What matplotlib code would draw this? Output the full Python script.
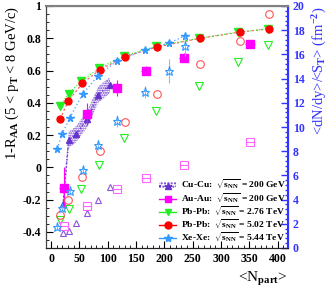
import numpy as np
import matplotlib
matplotlib.use("Agg")
import matplotlib.pyplot as plt
from matplotlib.lines import Line2D
from matplotlib.patches import Patch
from matplotlib.ticker import MultipleLocator, FuncFormatter

plt.rcParams['font.family'] = 'Liberation Serif'
plt.rcParams['font.weight'] = 'bold'
plt.rcParams['mathtext.fontset'] = 'custom'
plt.rcParams['mathtext.rm'] = 'Liberation Serif:bold'
plt.rcParams['mathtext.it'] = 'Liberation Serif:bold'
plt.rcParams['mathtext.bf'] = 'Liberation Serif:bold'

# filled markers -> 1-R_AA (left axis)
cucu_np = [21, 31, 44, 64, 83, 104]
cucu_raa = [-0.23, 0.17, 0.205, 0.30, 0.45, 0.51]
auau_np = [22, 64, 116, 167, 234, 351]
auau_raa = [-0.125, 0.33, 0.49, 0.60, 0.68, 0.765]
auau_raa_err = [0.13, 0.07, 0.05, 0.03, 0.03, 0.02]
pb276_np = [15, 31, 53, 85, 129, 185, 261, 330, 382]
pb276_raa = [0.378, 0.457, 0.533, 0.615, 0.69, 0.75, 0.80, 0.838, 0.858]
pb502_np = [16, 30, 55, 86, 130, 186, 263, 333, 384]
pb502_raa = [0.30, 0.41, 0.52, 0.605, 0.685, 0.745, 0.80, 0.838, 0.858]
xexe_np = [11, 19, 33, 56, 82, 116, 166, 208, 236]
xexe_raa = [0.115, 0.204, 0.307, 0.457, 0.564, 0.66, 0.728, 0.77, 0.815]

# open markers -> <dN/dy>/<S_T> (right axis)
cucu_dens = [1.22, 1.44, 2.06, 2.9, 3.94, 5.06]
auau_dens = [1.78, 3.45, 4.9, 5.8, 6.9, 8.8]
pb276_dens = [2.33, 3.22, 4.9, 6.9, 9.1, 11.3, 13.4, 15.4, 16.8]
pb502_dens = [2.75, 4.0, 5.9, 8.03, 10.4, 12.75, 15.17, 17.1, 19.3]
xexe_dens = [1.72, 3.3, 4.7, 6.44, 8.5, 10.5, 12.9, 14.6, 16.7]
xexe_dens_err = [0.2, 0.3, 0.3, 0.3, 0.4, 0.5, 0.5, 1.0, 0.8]

c_cu = '#6633cc'
c_au = '#ff00ff'
c_pb276 = '#22ee22'
c_pb502 = '#ff0000'
c_xe = '#3399ff'
c_right = '#3333ff'

fig = plt.figure(figsize=(3.34, 2.91), dpi=100)
ax = fig.add_axes([46/334, 43/291, 242/334, 242/291])
ax2 = ax.twinx()

# Cu-Cu band
cu_x = np.array(cucu_np)
cu_y = np.array(cucu_raa)
ax.fill_between(cu_x, cu_y - 0.05, cu_y + 0.05, facecolor='none', edgecolor=c_cu,
                hatch='.......', linewidth=0, zorder=2)
ax.plot(cu_x, cu_y, ls=':', color=c_cu, lw=1, zorder=3)
ax.plot(cu_x, cu_y, '^', color=c_cu, ms=4.5, zorder=4)

ax.plot(pb502_np, pb502_raa, ls=(0, (2, 2)), color='#ff5555', lw=0.8, zorder=3)
ax.plot(pb276_np, pb276_raa, ls=':', color=c_pb276, lw=0.8, zorder=3)
ax.plot(xexe_np, xexe_raa, ls=':', color='#66aaff', lw=1, zorder=3)

ax.errorbar(auau_np, auau_raa, yerr=auau_raa_err, xerr=8, fmt='s', color=c_au,
            ms=5.5, elinewidth=0.8, capsize=0, zorder=5)
ax.plot(pb276_np, pb276_raa, 'v', color=c_pb276, ms=5.5, zorder=5)
ax.plot(pb502_np, pb502_raa, 'o', color=c_pb502, ms=5, zorder=6)
ax.plot(xexe_np, xexe_raa, '*', color=c_xe, ms=5.5, zorder=6)

# open markers
ax2.plot(cucu_np, cucu_dens, '^', mfc='none', mec='#8855dd', ms=5, mew=0.8)
ax2.errorbar(auau_np, auau_dens, xerr=7, fmt='s', mfc='none', mec='#ff66ff',
             ecolor='#ff66ff', ms=5.5, mew=0.8, elinewidth=0.8, capsize=1.5)
ax2.plot(pb276_np, pb276_dens, 'v', mfc='none', mec=c_pb276, ms=5.5, mew=0.8)
ax2.plot(pb502_np, pb502_dens, 'o', mfc='none', mec='#ff5555', ms=5.5, mew=0.8)
ax2.errorbar(xexe_np, xexe_dens, yerr=xexe_dens_err, fmt='*', mfc='none', mec=c_xe,
             ecolor='#88bbff', ms=6.5, mew=0.8, elinewidth=0.8, capsize=0)

ax.set_xlim(-9, 418)
ax.set_ylim(-0.5, 1.0)
ax2.set_ylim(0, 20)

ax.xaxis.set_major_locator(MultipleLocator(50))
ax.xaxis.set_minor_locator(MultipleLocator(10))
ax.yaxis.set_major_locator(MultipleLocator(0.2))
ax.yaxis.set_minor_locator(MultipleLocator(0.05))
ax.yaxis.set_major_formatter(FuncFormatter(lambda v, p: '%g' % round(v, 2) if abs(v) > 1e-9 else '0'))
ax2.yaxis.set_major_locator(MultipleLocator(2))
ax2.yaxis.set_minor_locator(MultipleLocator(0.4))

ax.tick_params(axis='both', which='both', direction='in', labelsize=8.5)
ax.tick_params(which='major', length=5)
ax.tick_params(which='minor', length=2.5)
ax.tick_params(top=False, right=False)
ax2.tick_params(axis='y', which='both', direction='in', colors=c_right, labelsize=8.5, width=1)
ax2.tick_params(which='major', length=5)
ax2.tick_params(which='minor', length=2.5)
ax2.spines['top'].set_color('gray')
ax2.spines['top'].set_linewidth(1.5)
ax2.spines['left'].set_color('#444444')
ax2.spines['bottom'].set_color('#222222')
ax2.spines['right'].set_color(c_right)
ax2.spines['right'].set_linewidth(1.5)

ax.set_ylabel(r'1-R$_{\rm AA}$ (5 < p$_{\rm T}$ < 8 GeV/c)', fontsize=10.5, loc='top', labelpad=1)
ax2.set_ylabel(r'<dN/dy>/<S$_{\rm T}$> (fm$^{-2}$)', fontsize=10.5, loc='top', color=c_right, labelpad=4)
ax.set_xlabel(r'<N$_{\rm part}$>', fontsize=11, loc='right', labelpad=4)

handles = [
    (Patch(facecolor='none', edgecolor=c_cu, hatch='.....', linewidth=0),
     Line2D([], [], color=c_cu, marker='^', ls=':', ms=5)),
    Line2D([], [], color=c_au, marker='s', ms=5, lw=1),
    Line2D([], [], color=c_pb276, marker='v', ms=5, lw=1),
    Line2D([], [], color=c_pb502, marker='o', ms=5, lw=1),
    Line2D([], [], color=c_xe, marker='*', ms=6, lw=1),
]
labels = [
    r'Cu-Cu:  $\sqrt{s_{\rm NN}}$ = 200 GeV',
    r'Au-Au:  $\sqrt{s_{\rm NN}}$ = 200 GeV',
    r'Pb-Pb:  $\sqrt{s_{\rm NN}}$ = 2.76 TeV',
    r'Pb-Pb:  $\sqrt{s_{\rm NN}}$ = 5.02 TeV',
    r'Xe-Xe:  $\sqrt{s_{\rm NN}}$ = 5.44 TeV',
]
ax2.legend(handles, labels, loc='lower right', bbox_to_anchor=(1.015, -0.01), frameon=False,
           fontsize=6.8, handlelength=1.8, handletextpad=0.5, labelspacing=-0.1,
           borderaxespad=0.2)

fig.savefig('out.png', dpi=100)
